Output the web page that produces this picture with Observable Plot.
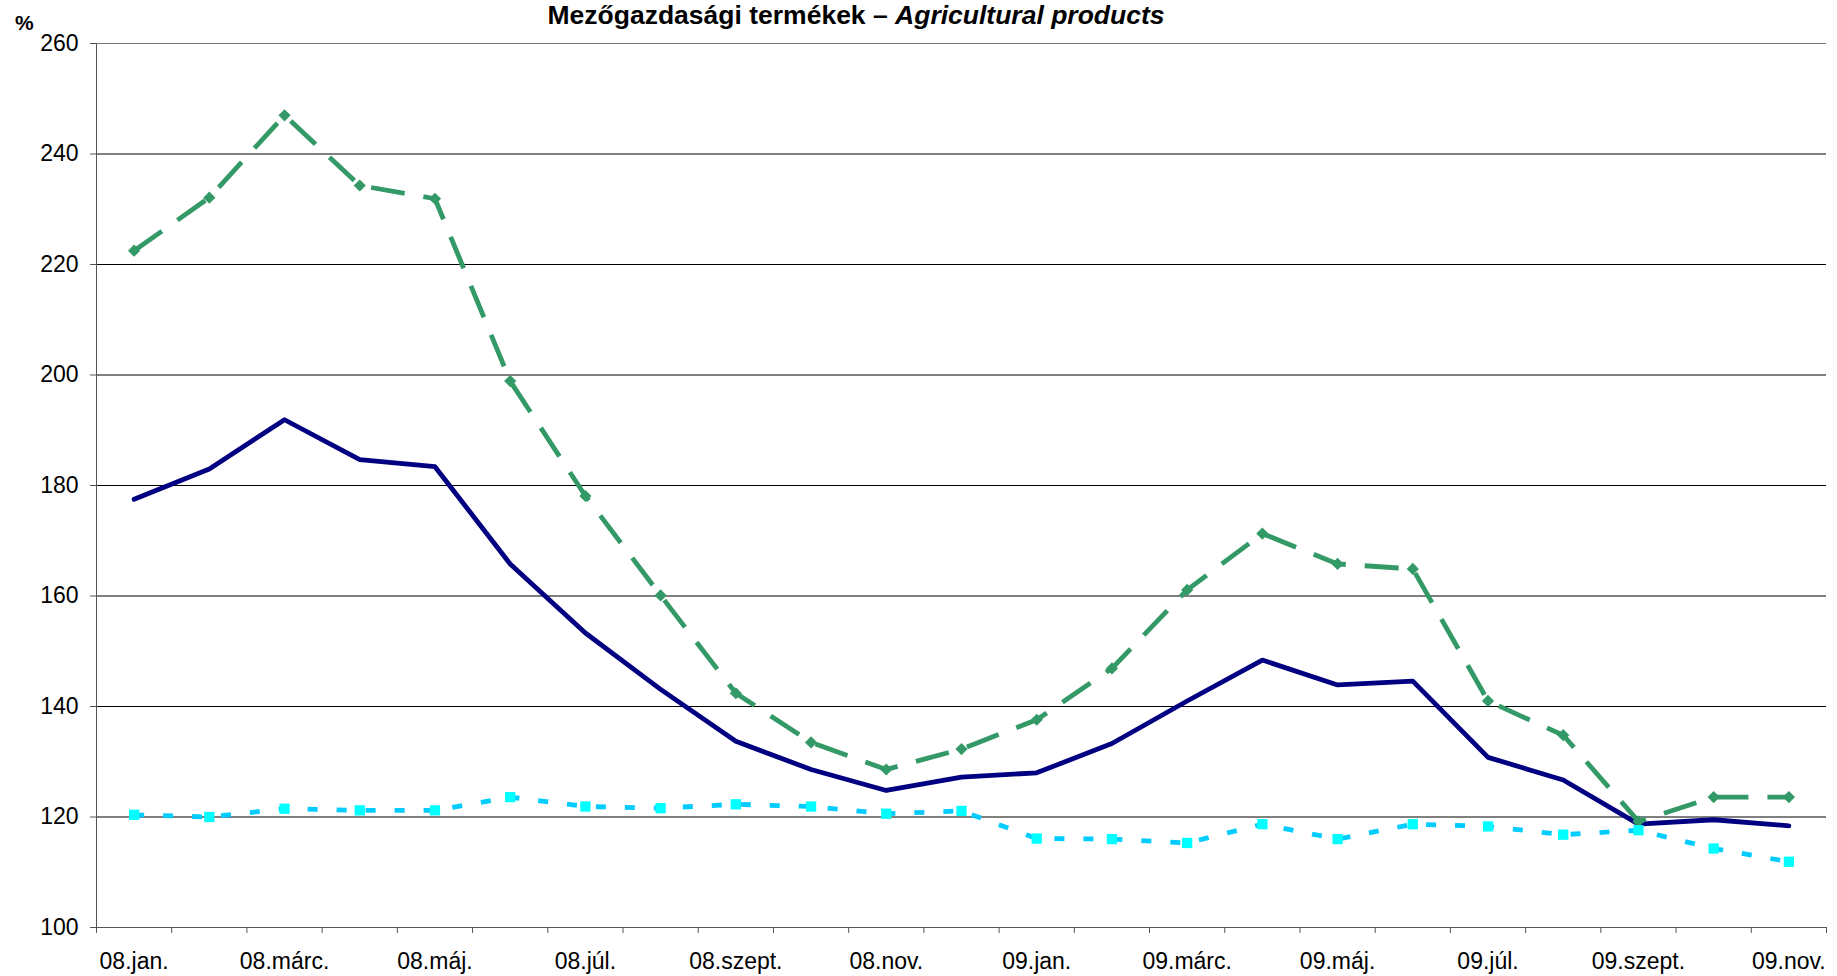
<!DOCTYPE html>
<html>
<head>
<meta charset="utf-8">
<script src="https://cdn.jsdelivr.net/npm/d3@7"></script>
<script src="https://cdn.jsdelivr.net/npm/@observablehq/plot@0.6"></script>
<style>
  html, body { margin: 0; padding: 0; background: #fff; }
  #wrap { position: relative; width: 1837px; height: 976px; font-family: "Liberation Sans", Arial, sans-serif; }
  #title { position: absolute; top: 2px; left: 856px; transform: translateX(-50%); white-space: nowrap;
           font-size: 26.5px; line-height: 26px; font-weight: bold; color: #000; }
  #unit { position: absolute; top: 12px; left: 15px; font-size: 21px; line-height: 21px; font-weight: bold; color: #000; }
  svg { display: block; }
</style>
</head>
<body>
<div id="wrap">
  <div id="title">Mezőgazdasági termékek – <i>Agricultural products</i></div>
  <div id="unit">%</div>
</div>
<script>
const categories = ["08.jan.","08.febr.","08.márc.","08.ápr.","08.máj.","08.jún.","08.júl.","08.aug.","08.szept.","08.okt.","08.nov.","08.dec.",
                    "09.jan.","09.febr.","09.márc.","09.ápr.","09.máj.","09.jún.","09.júl.","09.aug.","09.szept.","09.okt.","09.nov."];
const seriesNavy  = [177.5,183.0,191.9,184.7,183.4,165.8,153.3,143.1,133.7,128.6,124.8,127.2,128.0,133.3,141.0,148.4,143.9,144.6,130.8,126.7,118.7,119.5,118.4];
const seriesGreen = [222.5,232.1,247.0,234.3,231.9,198.9,178.1,160.1,142.4,133.5,128.6,132.3,137.6,146.9,161.1,171.3,165.8,164.9,141.0,134.8,119.2,123.6,123.6];
const seriesCyan  = [120.4,120.0,121.5,121.2,121.2,123.6,121.9,121.6,122.3,121.9,120.6,121.1,116.1,116.0,115.3,118.7,116.0,118.7,118.3,116.8,117.6,114.3,111.9];
const yTicks = [100,120,140,160,180,200,220,240,260];
const labelEvery = 2;

const rows = categories.map((c, i) => ({i, c, navy: seriesNavy[i], green: seriesGreen[i], cyan: seriesCyan[i]}));
const bounds = d3.range(categories.length + 1).map(i => i - 0.5);
const labelIdx = d3.range(0, categories.length, labelEvery);

const chart = Plot.plot({
  width: 1837,
  height: 976,
  marginLeft: 96,
  marginRight: 11,
  marginTop: 43,
  marginBottom: 49,
  x: {type: "linear", domain: [-0.5, categories.length - 0.5], axis: null},
  y: {domain: [100, 260], axis: null},
  style: {fontFamily: '"Liberation Sans", Arial, sans-serif', fontSize: "23px", color: "#000", background: "#fff"},
  marks: [
    Plot.ruleY(yTicks.filter(v => v > 100 && v < 260), {stroke: "#000", strokeWidth: 1}),
    Plot.ruleY([260], {stroke: "#777", strokeWidth: 1}),
    Plot.ruleX([-0.5], {stroke: "#555", strokeWidth: 1}),
    Plot.ruleY([100], {stroke: "#555", strokeWidth: 1}),
    Plot.axisY(yTicks, {tickSize: 6, tickPadding: 12, stroke: "#555", label: null, fontSize: 23}),
    Plot.axisX(bounds, {tickSize: 6, tickFormat: () => "", stroke: "#555", label: null}),
    Plot.axisX(labelIdx, {tickSize: 0, tickPadding: 25, tickFormat: i => categories[i], label: null, fontSize: 23}),
    Plot.line(rows, {x: "i", y: "navy", stroke: "#000080", strokeWidth: 4.8}),
    Plot.line(rows, {x: "i", y: "green", stroke: "#339966", strokeWidth: 4.8, strokeDasharray: "34,19", strokeLinecap: "butt", strokeLinejoin: "round"}),
    Plot.dot(rows, {x: "i", y: "green", symbol: "diamond2", r: 5.5, fill: "#339966", stroke: "none"}),
    Plot.line(rows, {x: "i", y: "cyan", stroke: "#00CCFF", strokeWidth: 4.8, strokeDasharray: "10,19", strokeLinecap: "butt"}),
    Plot.dot(rows, {x: "i", y: "cyan", symbol: "square", r: 5.8, fill: "#00FFFF", stroke: "none"})
  ]
});
document.getElementById("wrap").prepend(chart);
</script>
</body>
</html>
